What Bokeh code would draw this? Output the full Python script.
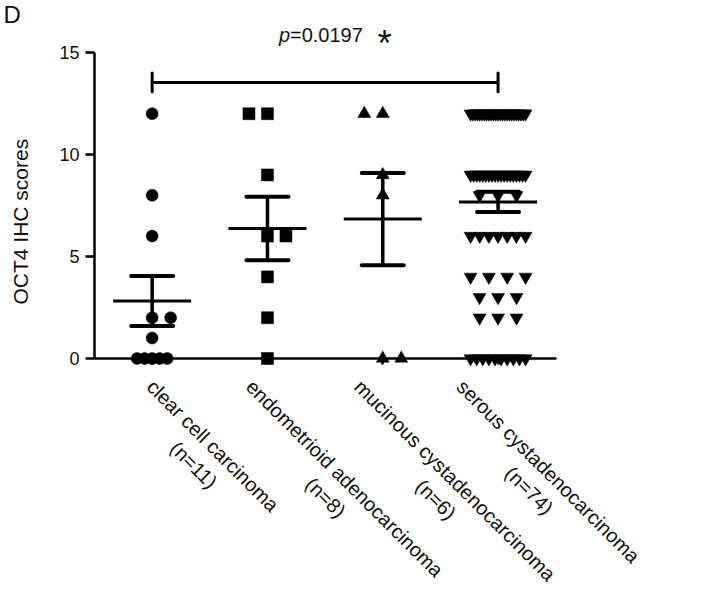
import math
import numpy as np
from bokeh.plotting import figure
from bokeh.models import Range1d, FixedTicker, Label, Title
from bokeh.embed import file_html
from bokeh.resources import INLINE

# ---------------- data ----------------
categories = ["clear cell carcinoma", "endometrioid adenocarcinoma",
              "mucinous cystadenocarcinoma", "serous cystadenocarcinoma"]
n_labels = ["(n=11)", "(n=8)", "(n=6)", "(n=74)"]

clear_cell = [12, 8, 6, 2, 2, 1, 0, 0, 0, 0, 0]
endometrioid = [12, 12, 9, 6, 6, 4, 2, 0]
mucinous = [12, 12, 9, 8, 0, 0]
serous = [12, 12, 12, 12, 12, 12, 12, 12, 12, 12, 12, 12, 12, 12, 12, 12, 12, 12, 12, 12, 12, 12, 12, 12, 12,
          9, 9, 9, 9, 9, 9, 9, 9, 9, 9, 9, 9, 9, 9, 9, 9, 9, 9, 9,
          8, 8, 8,
          6, 6, 6, 6, 6, 6, 6,
          4, 4, 4, 4,
          3, 3, 3,
          2, 2, 2,
          0, 0, 0, 0, 0, 0, 0, 0, 0, 0]

y_ticks = [0, 5, 10, 15]
y_title = "OCT4 IHC scores"
panel_letter = "D"
p_symbol = "p"
p_value = "=0.0197"
p_star = "*"
bracket_groups = (1, 4)

groups = [clear_cell, endometrioid, mucinous, serous]
markers = ["circle", "square", "triangle", "inverted_triangle"]

# ---------------- layout ----------------
W, H = 708, 584
BL, BR, BT, BB = 32, 0, 27, 0
PX_X = 115.3
PX_Y = 20.4
AXIS_X_PX = 94             # canvas column of the y axis (x = 0.5)
Y_ZERO_PX = 358            # canvas row of y = 0
X0 = 0.5 - (AXIS_X_PX - BL) / PX_X
X1 = X0 + (W - BL - BR) / PX_X
Y1 = (Y_ZERO_PX - BT) / PX_Y
Y0 = -(H - BB - Y_ZERO_PX) / PX_Y
FONT = "Liberation Sans"
INK = "#000000"
TXT = "#111111"


def sx(px):
    """canvas column -> data x"""
    return X0 + (px - BL) / PX_X


def sy(px):
    """canvas row -> data y"""
    return (Y_ZERO_PX - px) / PX_Y


p = figure(width=W, height=H, x_range=Range1d(X0, X1), y_range=Range1d(Y0, Y1),
           output_backend="svg", toolbar_location=None, x_axis_location="above",
           min_border_left=BL, min_border_right=BR, min_border_top=BT, min_border_bottom=BB)
p.outline_line_color = None
p.grid.visible = False
p.background_fill_color = "white"
p.border_fill_color = "white"

# panel letter as the plot title
p.title.text = panel_letter
p.title.align = "left"
p.title.vertical_align = "middle"
p.title.offset = -(BL - 3)
p.title.standoff = -2
p.title.text_font = FONT
p.title.text_font_size = "24px"
p.title.text_font_style = "normal"
p.title.text_color = TXT

# x axis drawn at y = 0 (ticks pointing down)
xa = p.xaxis[0]
xa.fixed_location = 0
xa.ticker = FixedTicker(ticks=[1, 2, 3, 4])
xa.bounds = (0.5, 4.51)
xa.major_label_overrides = {1: "", 2: "", 3: "", 4: ""}
xa.major_label_standoff = 0
xa.major_tick_out = 0
xa.major_tick_in = 6
xa.minor_tick_out = 0
xa.minor_tick_in = 0
xa.axis_line_width = 2.5
xa.major_tick_line_width = 2.5
xa.axis_line_color = INK
xa.major_tick_line_color = INK

# y axis drawn at x = 0.5
ya = p.yaxis[0]
ya.fixed_location = 0.5
ya.ticker = FixedTicker(ticks=y_ticks)
ya.bounds = (0, 15)
ya.major_tick_out = 9
ya.major_tick_in = 0
ya.minor_tick_out = 0
ya.minor_tick_in = 0
ya.axis_line_width = 2.5
ya.major_tick_line_width = 2.5
ya.axis_line_color = INK
ya.major_tick_line_color = INK
ya.major_label_text_font = FONT
ya.major_label_text_font_size = "18px"
ya.major_label_text_color = TXT
ya.major_label_standoff = 6

# y title on the left side
p.add_layout(Title(text=y_title, align="left", offset=H - BB - 304, vertical_align="middle",
                   standoff=0, text_font=FONT, text_font_size="21px", text_font_style="normal",
                   text_color=TXT), "left")

# ---------------- points spread (column scatter) ----------------
BASE_SP = 18.5 / PX_X
MAX_W = [30 / PX_X, 55 / PX_X, 55 / PX_X, 55 / PX_X]


def spread(values, max_w):
    vals = np.asarray(values, dtype=float)
    mean = vals.mean()
    off = np.zeros(len(vals))
    for v in np.unique(vals):
        idx = np.where(vals == v)[0]
        k = len(idx)
        if k == 2:
            # pairs: one point on the column centre, the other beside it
            off[idx] = [-BASE_SP, 0.0] if v > mean else [0.0, BASE_SP]
        elif k > 2:
            s = min(BASE_SP, max_w / (k - 1))
            off[idx] = (np.arange(k) - (k - 1) / 2) * s
    return off


MEAN_HALF = 39 / PX_X
CAP_HALF = 21 / PX_X

for i, vals in enumerate(groups):
    c = i + 1
    arr = np.asarray(vals, dtype=float)
    m = arr.mean()
    sem = arr.std(ddof=1) / math.sqrt(len(arr))
    p.segment(x0=[c - MEAN_HALF], y0=[m], x1=[c + MEAN_HALF], y1=[m],
              line_color=INK, line_width=3)
    p.segment(x0=[c], y0=[m - sem], x1=[c], y1=[m + sem], line_color=INK, line_width=3.5)
    p.segment(x0=[c - CAP_HALF, c - CAP_HALF], y0=[m - sem, m + sem],
              x1=[c + CAP_HALF, c + CAP_HALF], y1=[m - sem, m + sem],
              line_color=INK, line_width=4, line_cap="round")
    xs = c + spread(vals, MAX_W[i])
    size = 12 if markers[i] in ("circle", "square") else 13
    p.scatter(x=xs, y=arr, marker=markers[i], size=size,
              fill_color=INK, line_color=INK, line_width=0.5)

# ---------------- significance bracket ----------------
BR_Y = 13.53
BR_TICK = 0.46
b0, b1 = bracket_groups
p.segment(x0=[b0], y0=[BR_Y], x1=[b1], y1=[BR_Y], line_color=INK, line_width=3)
p.segment(x0=[b0, b1], y0=[BR_Y - BR_TICK, BR_Y - BR_TICK], x1=[b0, b1],
          y1=[BR_Y + BR_TICK, BR_Y + BR_TICK], line_color=INK, line_width=3, line_cap="round")

P_X = sx(289.5)
P_TOP = sy(23.5)
p.add_layout(Label(x=P_X, y=P_TOP, text=p_symbol, text_font=FONT, text_font_style="italic",
                   text_font_size="20px", text_align="right", text_baseline="top",
                   text_color=TXT))
p.add_layout(Label(x=P_X, y=P_TOP, text=p_value, text_font=FONT,
                   text_font_size="20px", text_align="left", text_baseline="top",
                   text_color=TXT))
p.add_layout(Label(x=sx(377), y=sy(22), text=p_star, text_font=FONT,
                   text_font_size="36px", text_align="left", text_baseline="top",
                   text_color=TXT))

# ---------------- rotated category labels ----------------
ARIAL_W = {' ': 278, '(': 333, ')': 333, '=': 584, 'a': 556, 'c': 500, 'd': 556, 'e': 556,
           'i': 222, 'l': 222, 'm': 833, 'n': 556, 'o': 556, 'r': 333, 's': 500, 't': 278,
           'u': 556, 'y': 500}


def text_w(s, size):
    return sum(ARIAL_W.get(ch, 556) for ch in s) * size / 1000.0


LAB_SIZE = 20
LINE_H = 27
LAB_DX_PX = [6, -10, -17, -30]
LAB_Y = sy(375)
ANG = -math.pi / 4
r2 = math.sqrt(0.5)
for i, cat in enumerate(categories):
    ax = (i + 1) + LAB_DX_PX[i] / PX_X
    ay = LAB_Y
    p.add_layout(Label(x=ax, y=ay, text=cat, angle=ANG, text_font=FONT,
                       text_font_size=f"{LAB_SIZE}px", text_align="left", text_baseline="top",
                       text_color=TXT))
    half = text_w(cat, LAB_SIZE) / 2
    dx = half * r2 - LINE_H * r2
    dy = half * r2 + LINE_H * r2
    p.add_layout(Label(x=ax + dx / PX_X, y=ay - dy / PX_Y, text=n_labels[i], angle=ANG,
                       text_font=FONT, text_font_size=f"{LAB_SIZE}px", text_align="center",
                       text_baseline="top", text_color=TXT))

open("out.html", "w").write(file_html(p, INLINE))
